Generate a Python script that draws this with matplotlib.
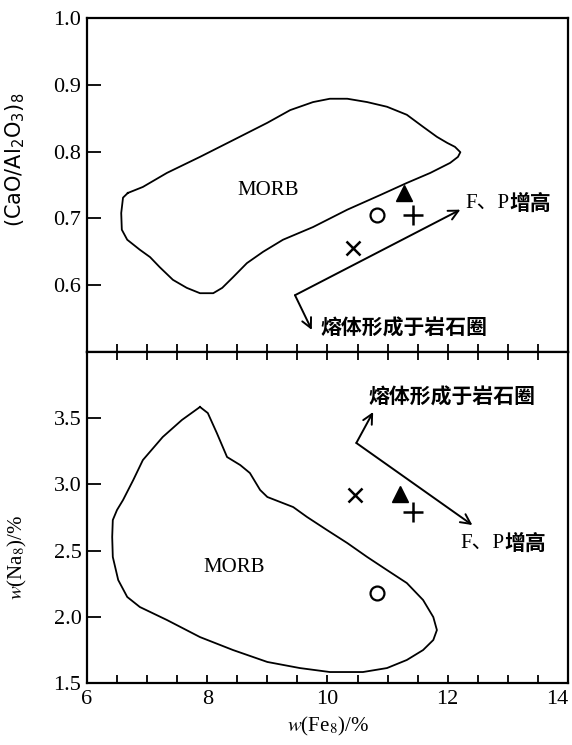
import numpy as np
import matplotlib.pyplot as plt
from matplotlib.ticker import MultipleLocator

plt.rcParams['font.family'] = ['Liberation Serif', 'Noto Sans CJK SC']
plt.rcParams['mathtext.fontset'] = 'stix'

# MORB field, upper panel: Fe8 vs (CaO/Al2O3)8
morb_top_fe = [6.68, 6.93, 7.33, 7.88, 8.43, 9.00, 9.38, 9.76, 10.04, 10.33, 10.66,
               10.99, 11.32, 11.59, 11.82, 11.99, 12.12, 12.21, 12.17, 12.04, 11.71,
               11.32, 10.88, 10.33, 9.76, 9.26, 8.93, 8.66, 8.43, 8.25, 8.10, 7.88,
               7.66, 7.43, 7.21, 7.05, 6.88, 6.67, 6.58, 6.57, 6.60, 6.68]
morb_top_ca = [0.738, 0.747, 0.768, 0.792, 0.817, 0.843, 0.862, 0.874, 0.879, 0.879, 0.874,
               0.867, 0.855, 0.837, 0.822, 0.813, 0.807, 0.799, 0.792, 0.783, 0.768,
               0.753, 0.735, 0.713, 0.687, 0.668, 0.650, 0.633, 0.612, 0.596, 0.588, 0.588,
               0.596, 0.608, 0.627, 0.642, 0.653, 0.668, 0.683, 0.708, 0.731, 0.738]

# MORB field, lower panel: Fe8 vs Na8
morb_bot_fe = [7.88, 7.58, 7.26, 6.93, 6.77, 6.60, 6.50, 6.43, 6.42, 6.43, 6.52, 6.67,
               6.88, 7.33, 7.88, 8.43, 9.00, 9.54, 10.04, 10.59, 10.99, 11.32, 11.59,
               11.76, 11.82, 11.76, 11.59, 11.32, 10.99, 10.66, 10.33, 9.99, 9.66, 9.43,
               9.26, 9.00, 8.88, 8.71, 8.55, 8.33, 8.16, 8.01, 7.88]
morb_bot_na = [3.585, 3.487, 3.358, 3.184, 3.033, 2.882, 2.807, 2.731, 2.603, 2.452, 2.278,
               2.150, 2.074, 1.976, 1.847, 1.749, 1.659, 1.613, 1.583, 1.583, 1.613, 1.674,
               1.749, 1.825, 1.900, 1.998, 2.127, 2.255, 2.353, 2.452, 2.557, 2.656, 2.754,
               2.829, 2.859, 2.905, 2.958, 3.086, 3.146, 3.207, 3.388, 3.539, 3.585]

# samples: circle, plus, triangle, cross
samp_fe_top = [10.83, 11.42, 11.27, 10.43]
samp_ca = [0.705, 0.705, 0.738, 0.656]
samp_fe_bot = [10.83, 11.42, 11.21, 10.46]
samp_na = [2.18, 2.79, 2.93, 2.92]

fig = plt.figure(figsize=(5.72, 7.45), dpi=100)
ax1 = fig.add_axes([0.152, 0.5275, 0.841, 0.4485])
ax2 = fig.add_axes([0.152, 0.0832, 0.841, 0.4443])

for ax in (ax1, ax2):
    ax.set_xlim(6, 14)
    for s in ax.spines.values():
        s.set_linewidth(1.6)
    ax.xaxis.set_major_locator(MultipleLocator(2))
    ax.xaxis.set_minor_locator(MultipleLocator(0.5))
    ax.tick_params(axis='x', which='both', direction='in', length=6, width=1.3)
    ax.tick_params(axis='y', which='major', direction='in', length=10, width=1.3,
                   labelsize=16, pad=4)
    ax.tick_params(axis='x', labelsize=16, pad=5)

def draw_samples(ax, xs, ys):
    ax.plot(xs[0], ys[0], 'o', ms=10, mfc='white', mec='black', mew=1.6)
    ax.plot(xs[1], ys[1], '+', ms=14, mec='black', mew=1.8)
    ax.plot(xs[2], ys[2], '^', ms=12, mfc='black', mec='black')
    ax.plot(xs[3], ys[3], 'x', ms=10, mec='black', mew=1.8)

def fp_label(ax, x, y):
    t = ax.text(x, y, 'F、P', fontsize=15, ha='left', va='center')
    ax.annotate('增高', xy=(1, 0.5), xycoords=t, fontsize=15, fontweight='bold',
                ha='left', va='center', family=['Noto Sans CJK SC', 'DejaVu Sans'])

arrow = dict(arrowstyle='->,head_length=0.7,head_width=0.35', lw=1.4, color='black',
             shrinkA=0, shrinkB=0)
cjk = ['Noto Sans CJK SC', 'DejaVu Sans']

# upper panel
ax1.plot(morb_top_fe, morb_top_ca, color='black', lw=1.3)
draw_samples(ax1, samp_fe_top, samp_ca)
ax1.set_ylim(0.5, 1.0)
ax1.set_yticks([0.6, 0.7, 0.8, 0.9, 1.0])
ax1.set_yticklabels(['0.6', '0.7', '0.8', '0.9', '1.0'])
ax1.tick_params(axis='x', labelbottom=False)
ax1.annotate('', xy=(12.21, 0.713), xytext=(9.46, 0.585), arrowprops=arrow)
ax1.annotate('', xy=(9.74, 0.533), xytext=(9.46, 0.585), arrowprops=arrow)
ax1.text(9.01, 0.742, 'MORB', fontsize=15, ha='center', va='center')
fp_label(ax1, 12.3, 0.723)
ax1.text(9.88, 0.536, '熔体形成于岩石圈', fontsize=15, fontweight='bold', ha='left',
         va='center', family=cjk)
ax1.set_ylabel('(CaO/Al$_2$O$_3$)$_8$', fontsize=15, family='DejaVu Sans',
               math_fontfamily='dejavusans')
ax1.yaxis.set_label_coords(-0.125, 0.575)

# lower panel
ax2.plot(morb_bot_fe, morb_bot_na, color='black', lw=1.3)
draw_samples(ax2, samp_fe_bot, samp_na)
ax2.set_ylim(1.5, 4.0)
ax2.set_yticks([1.5, 2.0, 2.5, 3.0, 3.5])
ax2.set_yticklabels(['1.5', '2.0', '2.5', '3.0', '3.5'])
ax2.tick_params(axis='x', which='both', top=True)
ax2.annotate('', xy=(10.76, 3.547), xytext=(10.48, 3.313), arrowprops=arrow)
ax2.annotate('', xy=(12.41, 2.693), xytext=(10.48, 3.313), arrowprops=arrow)
ax2.text(8.44, 2.376, 'MORB', fontsize=15, ha='center', va='center')
ax2.text(10.68, 3.66, '熔体形成于岩石圈', fontsize=15, fontweight='bold', ha='left',
         va='center', family=cjk)
fp_label(ax2, 12.21, 2.557)
ax2.set_ylabel('$w$(Na$_8$)/%', fontsize=15)
ax2.yaxis.set_label_coords(-0.12, 0.38)
ax2.set_xlabel('$w$(Fe$_8$)/%', fontsize=15, labelpad=4)

for lab in ax2.get_xticklabels():
    if lab.get_text() == '14':
        lab.set_ha('right')
fig.canvas.draw()
labs = ax2.get_xticklabels()
labs[-1].set_ha('right')

fig.savefig('out.png', dpi=100)
